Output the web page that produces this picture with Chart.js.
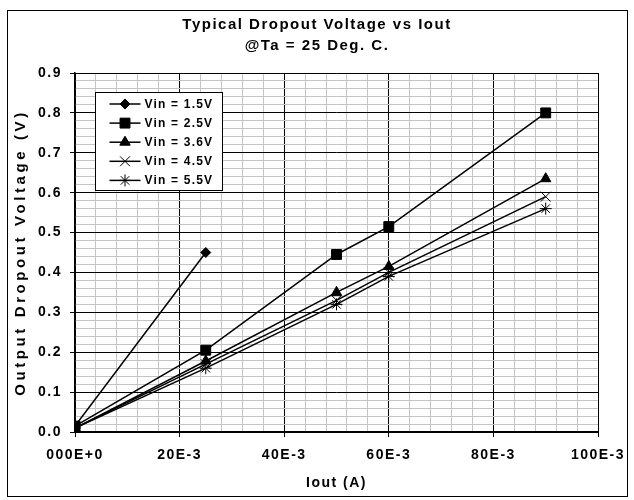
<!DOCTYPE html>
<html>
<head>
<meta charset="utf-8">
<script src="https://cdn.jsdelivr.net/npm/chart.js@4.4.0/dist/chart.umd.min.js"></script>
<style>
html,body{margin:0;padding:0;background:#fff;}
#wrap{width:634px;height:500px;position:relative;}
</style>
</head>
<body>
<div id="wrap"><canvas id="c" width="634" height="500"></canvas></div>
<script>
// ---- data ----
const ioutAll = [0, 0.025, 0.05, 0.06, 0.09];
const iout15 = [0, 0.025];
const vin15 = [0.015, 0.45];
const vin25 = [0.015, 0.205, 0.445, 0.515, 0.80];
const vin36 = [0.01, 0.178, 0.35, 0.415, 0.635];
const vin45 = [0.01, 0.17, 0.33, 0.40, 0.59];
const vin55 = [0.01, 0.16, 0.32, 0.39, 0.56];
const seriesLabels = ['Vin = 1.5V', 'Vin = 2.5V', 'Vin = 3.6V', 'Vin = 4.5V', 'Vin = 5.5V'];
const xTickLabels = ['000E+0', '20E-3', '40E-3', '60E-3', '80E-3', '100E-3'];
const yTickLabels = ['0.0', '0.1', '0.2', '0.3', '0.4', '0.5', '0.6', '0.7', '0.8', '0.9'];
const titleLines = ['Typical Dropout Voltage vs Iout', '@Ta = 25 Deg. C.'];
const xTitle = 'Iout (A)';
const yTitle = 'Output Dropout Voltage (V)';

const pts = (xs, ys) => ys.map((y, i) => ({x: xs[i], y: y}));
const styles = [
  {pointStyle: 'rectRot', pointRadius: 5},
  {pointStyle: 'rect', pointRadius: 7},
  {pointStyle: 'triangle', pointRadius: 6},
  {pointStyle: 'crossRot', pointRadius: 7},
  {pointStyle: 'star', pointRadius: 6}
];
const seriesData = [pts(iout15, vin15), pts(ioutAll, vin25), pts(ioutAll, vin36), pts(ioutAll, vin45), pts(ioutAll, vin55)];

const datasets = seriesData.map((d, i) => ({
  label: seriesLabels[i],
  data: d,
  showLine: true,
  borderColor: '#000',
  backgroundColor: '#000',
  borderWidth: 1.5,
  pointStyle: styles[i].pointStyle,
  pointRadius: styles[i].pointRadius,
  pointBorderWidth: 1,
  pointBorderColor: '#000',
  pointBackgroundColor: '#000',
  tension: 0
}));

const FONT = "'Liberation Sans', Arial, sans-serif";
const gridColor = c => (c.index % 5 === 0 ? '#000000' : '#c4c4c4');
const tickColor = c => (c.index % 5 === 0 ? '#000000' : 'rgba(0,0,0,0)');

function spaced(obj, fnName, ls, dx) {
  if (obj['_w_' + fnName]) return;
  const orig = obj[fnName];
  obj[fnName] = function () {
    const c = this.ctx;
    c.save();
    c.letterSpacing = ls;
    if (dx) c.translate(dx, 0);
    orig.apply(this, arguments);
    c.restore();
  };
  obj['_w_' + fnName] = true;
}

const framePlugin = {
  id: 'frame',
  beforeDraw(chart) {
    const ctx = chart.ctx;
    ctx.save();
    ctx.fillStyle = '#fff';
    ctx.fillRect(0, 0, chart.width, chart.height);
    ctx.restore();
    ctx.letterSpacing = '1.5px';
    if (chart.titleBlock) spaced(chart.titleBlock, 'draw', '1.5px', 14);
  },
  afterDraw(chart) {
    const ctx = chart.ctx;
    ctx.save();
    ctx.strokeStyle = '#000';
    ctx.lineWidth = 1;
    ctx.strokeRect(7.5, 10.5, 620, 486);

    // legend box inside plot area
    const a = chart.chartArea;
    const x0 = Math.round(a.left + 20) + 0.5, y0 = Math.round(a.top + 19) + 0.5;
    const w = 127, h = 98;
    ctx.fillStyle = '#fff';
    ctx.fillRect(x0, y0, w, h);
    ctx.strokeRect(x0, y0, w, h);
    ctx.font = 'bold 12px ' + FONT;
    ctx.letterSpacing = '1.2px';
    ctx.textBaseline = 'middle';
    ctx.textAlign = 'left';
    chart.data.datasets.forEach((ds, i) => {
      const y = y0 + 11.5 + i * 19.1;
      ctx.strokeStyle = '#000';
      ctx.lineWidth = 1.5;
      ctx.beginPath();
      ctx.moveTo(x0 + 14, y);
      ctx.lineTo(x0 + 45, y);
      ctx.stroke();
      ctx.fillStyle = '#000';
      ctx.lineWidth = 1;
      Chart.helpers.drawPoint(ctx, {pointStyle: ds.pointStyle, radius: ds.pointRadius, rotation: 0, borderWidth: 1}, x0 + 29.5, y);
      ctx.fillStyle = '#000';
      ctx.fillText(ds.label, x0 + 49, y + 0.5);
    });
    ctx.restore();
  }
};

new Chart(document.getElementById('c'), {
  type: 'scatter',
  data: {datasets: datasets},
  plugins: [framePlugin],
  options: {
    responsive: false,
    animation: false,
    devicePixelRatio: 1,
    layout: {padding: {top: 10, left: 8, right: 36, bottom: 8}},
    plugins: {
      legend: {display: false},
      tooltip: {enabled: false},
      title: {
        display: true,
        text: titleLines,
        color: '#000',
        font: {family: FONT, size: 15, weight: 'bold', lineHeight: 1.4},
        padding: {top: 4, bottom: 17}
      }
    },
    scales: {
      x: {
        type: 'linear',
        min: 0,
        max: 0.1,
        afterFit(scale) { scale.height = 60; },
        ticks: {
          stepSize: 0.004,
          autoSkip: false,
          maxRotation: 0,
          color: '#000',
          padding: 10,
          font: {family: FONT, size: 14, weight: 'bold'},
          callback: (v, i) => (i % 5 === 0 ? xTickLabels[i / 5] : '')
        },
        grid: {color: gridColor, tickColor: tickColor, tickLength: 5, lineWidth: 1},
        border: {display: true, color: '#000', width: 2},
        title: {
          display: true,
          text: xTitle,
          color: '#000',
          font: {family: FONT, size: 14, weight: 'bold'},
          padding: {top: 0, bottom: 0}
        }
      },
      y: {
        type: 'linear',
        min: 0,
        max: 0.9,
        afterFit(scale) {
          scale.width = 67;
          spaced(scale, 'drawTitle', '3.6px');
        },
        ticks: {
          stepSize: 0.02,
          autoSkip: false,
          color: '#000',
          padding: 8,
          font: {family: FONT, size: 14, weight: 'bold'},
          callback: (v, i) => (i % 5 === 0 ? yTickLabels[i / 5] : '')
        },
        grid: {color: gridColor, tickColor: tickColor, tickLength: 5, lineWidth: 1},
        border: {display: true, color: '#000', width: 1.5},
        title: {
          display: true,
          text: yTitle,
          color: '#000',
          font: {family: FONT, size: 15, weight: 'bold'},
          padding: {top: 4, bottom: 0}
        }
      }
    }
  }
});
</script>
</body>
</html>
